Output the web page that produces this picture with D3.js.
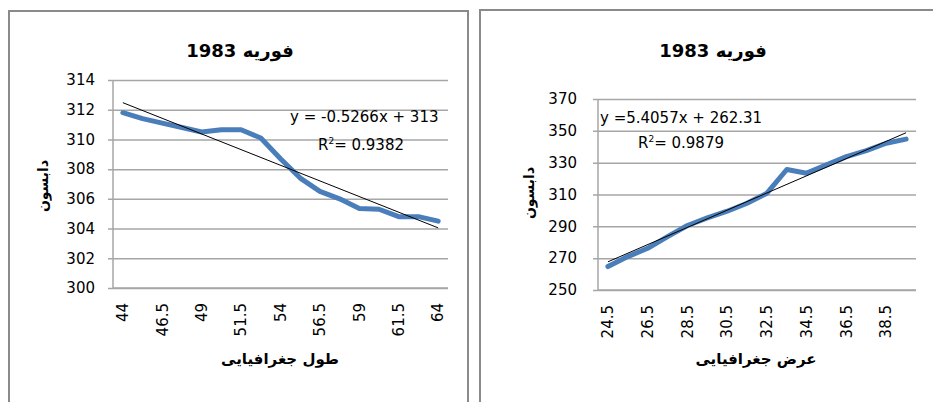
<!DOCTYPE html>
<html>
<head>
<meta charset="utf-8">
<script src="https://cdn.jsdelivr.net/npm/d3@7"></script>
<style>
  body { margin: 0; background: #fff; }
  svg text { font-family: "DejaVu Sans", sans-serif; fill: #000; }
</style>
</head>
<body>
<svg></svg>
<script>
const width = 933
const height = 402

// طول جغرافیایی
const lonCategories = [44, 45.25, 46.5, 47.75, 49, 50.25, 51.5, 52.75, 54, 55.25, 56.5, 57.75, 59, 60.25, 61.5, 62.75, 64]
const lonValues = [311.8, 311.4, 311.1, 310.8, 310.5, 310.65, 310.65, 310.1, 308.7, 307.4, 306.5, 306.0, 305.35, 305.3, 304.8, 304.8, 304.5]
const lonTrend = [-0.5266, 313]
const lonYTicks = [300, 302, 304, 306, 308, 310, 312, 314]

// عرض جغرافیایی
const latCategories = [24.5, 25.5, 26.5, 27.5, 28.5, 29.5, 30.5, 31.5, 32.5, 33.5, 34.5, 35.5, 36.5, 37.5, 38.5, 39.5]
const latValues = [264.7, 271, 276.2, 283.5, 290.5, 295.3, 299.5, 304.5, 310.8, 325.7, 323.4, 328.6, 333.8, 337.6, 342.2, 344.8]
const latTrend = [5.4057, 262.31]
const latYTicks = [250, 270, 290, 310, 330, 350, 370]

const svg = d3.select('svg')
  .attr('width', width)
  .attr('height', height)
  .attr('viewBox', [0, 0, width, height])

function drawChart(o) {
  const g = svg.append('g')

  // کادر
  g.append('rect')
    .attr('x', o.frame[0]).attr('y', o.frame[1])
    .attr('width', o.frame[2]).attr('height', 420)
    .attr('fill', 'none').attr('stroke', '#8a8a8a').attr('stroke-width', 2)

  const x = d3.scaleBand()
    .domain(o.categories)
    .range([o.left, o.right])
  const cx = c => x(c) + x.bandwidth() / 2

  const y = d3.scaleLinear()
    .domain(d3.extent(o.yTicks))
    .range([o.bottom, o.top])

  // خطوط شبکه و محور عمودی
  g.append('g')
    .attr('transform', 'translate(' + o.left + ',0)')
    .call(d3.axisLeft(y).tickValues(o.yTicks).tickSize(5).tickPadding(o.tickPad))
    .call(a => a.select('.domain').remove())
    .call(a => a.selectAll('.tick line')
      .attr('x1', -5).attr('x2', o.right - o.left)
      .attr('stroke', '#a6a6a6').attr('stroke-width', 1.5))
    .call(a => a.selectAll('.tick text')
      .attr('font-size', 15).attr('font-family', '"DejaVu Sans", sans-serif').attr('fill', '#000'))

  g.append('line')
    .attr('x1', o.left).attr('x2', o.left)
    .attr('y1', o.top).attr('y2', o.bottom)
    .attr('stroke', '#a6a6a6').attr('stroke-width', 1.5)

  // محور افقی
  const xLabels = o.categories.filter((d, i) => i % 2 === 0)
  g.append('g')
    .attr('transform', 'translate(0,' + o.bottom + ')')
    .call(d3.axisBottom(x).tickValues(xLabels).tickSize(0).tickFormat(d => d))
    .call(a => a.select('.domain').remove())
    .call(a => a.selectAll('.tick text')
      .attr('font-size', 15).attr('font-family', '"DejaVu Sans", sans-serif').attr('fill', '#000')
      .attr('transform', 'rotate(-90)')
      .attr('text-anchor', 'end')
      .attr('x', -15).attr('y', 0).attr('dy', '0.35em'))

  g.append('line')
    .attr('x1', o.left).attr('x2', o.right)
    .attr('y1', o.bottom).attr('y2', o.bottom)
    .attr('stroke', '#a6a6a6').attr('stroke-width', 1.5)

  // سری داده
  const line = d3.line()
    .x((d, i) => cx(o.categories[i]))
    .y(d => y(d))
  g.append('path')
    .datum(o.values)
    .attr('d', line)
    .attr('fill', 'none')
    .attr('stroke', '#4a7ebb')
    .attr('stroke-width', 5)
    .attr('stroke-linejoin', 'round')
    .attr('stroke-linecap', 'round')

  // خط روند
  const n = o.categories.length
  const t = k => o.trend[0] * k + o.trend[1]
  g.append('line')
    .attr('x1', cx(o.categories[0])).attr('y1', y(t(1)))
    .attr('x2', cx(o.categories[n - 1])).attr('y2', y(t(n)))
    .attr('stroke', '#000').attr('stroke-width', 1)

  // عنوان
  g.append('text')
    .text(o.title)
    .attr('x', o.titleX).attr('y', 57)
    .attr('text-anchor', 'middle')
    .attr('font-size', 18).attr('font-weight', 'bold')
    .attr('font-family', '"Liberation Sans", Arial, sans-serif')

  g.append('text')
    .text(o.xTitle)
    .attr('x', o.xTitleX).attr('y', 364)
    .attr('text-anchor', 'middle')
    .attr('font-size', 15).attr('font-weight', 'bold')
    .attr('font-family', '"Liberation Sans", Arial, sans-serif')

  g.append('text')
    .text(o.yTitle)
    .attr('transform', 'translate(' + o.yTitlePos[0] + ',' + o.yTitlePos[1] + ') rotate(-90)')
    .attr('text-anchor', 'middle')
    .attr('font-size', 14).attr('font-weight', 'bold')
    .attr('font-family', '"Liberation Sans", Arial, sans-serif')

  // معادله
  const eq = g.append('g').attr('font-size', 15).attr('font-family', '"Liberation Sans", Arial, sans-serif')
  eq.append('text').text(o.eq[0]).attr('x', o.eqPos[0]).attr('y', o.eqPos[1])
  const r2 = eq.append('text').attr('x', o.eqPos[2]).attr('y', o.eqPos[3])
  r2.append('tspan').text('R')
  r2.append('tspan').text('2').attr('font-size', 9).attr('dy', -6)
  r2.append('tspan').text('= ' + o.eq[1]).attr('dy', 6)
}

drawChart({
  frame: [9, 11, 459],
  left: 113, right: 448, top: 80, bottom: 288,
  tickPad: 13,
  categories: lonCategories, values: lonValues, trend: lonTrend, yTicks: lonYTicks,
  title: 'فوریه 1983', titleX: 240,
  xTitle: 'طول جغرافیایی', xTitleX: 280,
  yTitle: 'دابسون', yTitlePos: [48, 186],
  eq: ['y = -0.5266x + 313', '0.9382'], eqPos: [290, 122, 318, 150]
})

drawChart({
  frame: [480, 10, 460],
  left: 598, right: 916, top: 99, bottom: 290,
  tickPad: 16,
  categories: latCategories, values: latValues, trend: latTrend, yTicks: latYTicks,
  title: 'فوریه 1983', titleX: 713,
  xTitle: 'عرض جغرافیایی', xTitleX: 756,
  yTitle: 'دابسون', yTitlePos: [534, 193],
  eq: ['y =5.4057x + 262.31', '0.9879'], eqPos: [600, 123, 638, 148]
})
</script>
</body>
</html>
